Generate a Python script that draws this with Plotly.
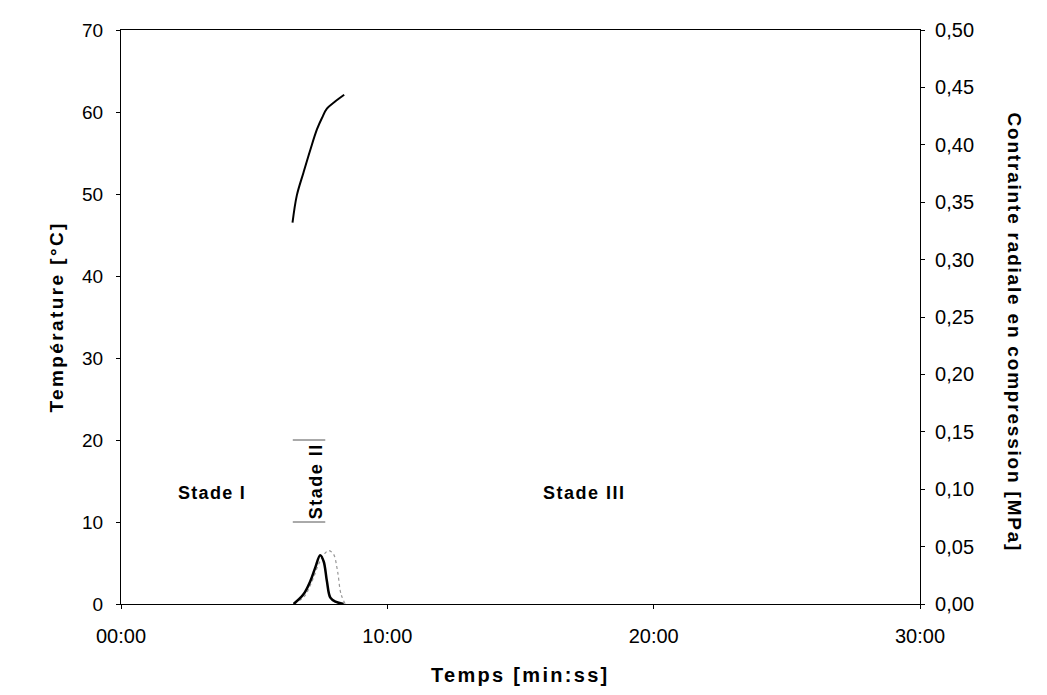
import plotly.graph_objects as go

# Temperature (left axis)
temp_time = [6.44, 6.60, 6.85, 7.11, 7.36, 7.55, 7.73, 8.05, 8.38]
temperature = [46.5, 49.8, 52.6, 55.4, 57.9, 59.3, 60.4, 61.3, 62.1]

# Radial stress (right axis) - black solid
s1_time = [6.48, 6.85, 7.11, 7.29, 7.48, 7.61, 7.73, 7.86, 8.05, 8.36]
s1_val = [0.0, 0.0084, 0.020, 0.0315, 0.0425, 0.037, 0.020, 0.0055, 0.002, 0.0]

# Radial stress - grey dotted
s2_time = [6.50, 6.90, 7.10, 7.23, 7.42, 7.67, 7.80, 7.98, 8.13, 8.26, 8.42]
s2_val = [0.0, 0.007, 0.016, 0.023, 0.0347, 0.0445, 0.0466, 0.0434, 0.0286, 0.0087, 0.0]

x_ticks = [0, 10, 20, 30]
x_labels = ["00:00", "10:00", "20:00", "30:00"]
y_ticks = [0, 10, 20, 30, 40, 50, 60, 70]
y2_ticks = [0, 0.05, 0.10, 0.15, 0.20, 0.25, 0.30, 0.35, 0.40, 0.45, 0.50]
y2_labels = ["0,00", "0,05", "0,10", "0,15", "0,20", "0,25", "0,30", "0,35", "0,40", "0,45", "0,50"]

FONT = "Arial, Liberation Sans, sans-serif"


def spaced(txt, px):
    return '<span style="letter-spacing:%.1fpx"><b>%s</b></span>' % (px, txt)


fig = go.Figure()
fig.add_trace(go.Scatter(x=temp_time, y=temperature, mode="lines",
                         line=dict(color="black", width=2), line_shape="spline",
                         showlegend=False))
fig.add_trace(go.Scatter(x=s2_time, y=s2_val, mode="lines", yaxis="y2",
                         line=dict(color="#999999", width=1.2, dash="dot"), line_shape="spline",
                         showlegend=False))
fig.add_trace(go.Scatter(x=s1_time, y=s1_val, mode="lines", yaxis="y2",
                         line=dict(color="black", width=2.5), line_shape="spline",
                         showlegend=False))

fig.update_layout(
    width=1031, height=679,
    margin=dict(l=113, r=119, t=22, b=83),
    paper_bgcolor="white", plot_bgcolor="white",
    font=dict(family=FONT, size=19, color="black"),
    xaxis=dict(range=[0, 30], tickvals=x_ticks, ticktext=x_labels,
               showgrid=False, zeroline=False, showline=True, linecolor="black",
               linewidth=1.2, ticks="outside", ticklen=4, tickcolor="black",
               mirror=True, tickfont=dict(size=20), ticklabelstandoff=10),
    yaxis=dict(range=[0, 70], tickvals=y_ticks,
               showgrid=False, zeroline=False, showline=True, linecolor="black",
               linewidth=1.2, ticks="outside", ticklen=4, tickcolor="black",
               tickfont=dict(size=19), ticklabelstandoff=9),
    yaxis2=dict(range=[0, 0.5], tickvals=y2_ticks, ticktext=y2_labels,
                overlaying="y", side="right", showgrid=False, zeroline=False,
                showline=True, linecolor="black", linewidth=1.2,
                ticks="outside", ticklen=4, tickcolor="black",
                tickfont=dict(size=20), ticklabelstandoff=6),
)

fig.add_annotation(text=spaced("Température [°C]", 2.4), xref="paper", yref="paper",
                   x=0, y=0.5, xshift=-78, textangle=-90, showarrow=False,
                   font=dict(size=19))
fig.add_annotation(text=spaced("Contrainte radiale en compression [MPa]", 1.8), xref="paper", yref="paper",
                   x=1, y=0.5, xshift=107, yshift=-15, textangle=90, showarrow=False,
                   font=dict(size=19))
fig.add_annotation(text=spaced("Temps [min:ss]", 2.3), xref="paper", yref="paper",
                   x=0.5, y=0, yshift=-71, yanchor="middle", showarrow=False, font=dict(size=20))

fig.add_annotation(text=spaced("Stade I", 1.3), x=3.42, y=13.5, showarrow=False, font=dict(size=18))
fig.add_annotation(text=spaced("Stade II", 1.5), x=7.33, y=15.0, textangle=-90, showarrow=False, font=dict(size=18))
fig.add_annotation(text=spaced("Stade III", 1.5), x=17.4, y=13.5, showarrow=False, font=dict(size=18))

for yv in (20, 10):
    fig.add_shape(type="line", x0=6.45, x1=7.67, y0=yv, y1=yv, xref="x", yref="y",
                  line=dict(color="#555555", width=1))

fig.write_html("out.html")
